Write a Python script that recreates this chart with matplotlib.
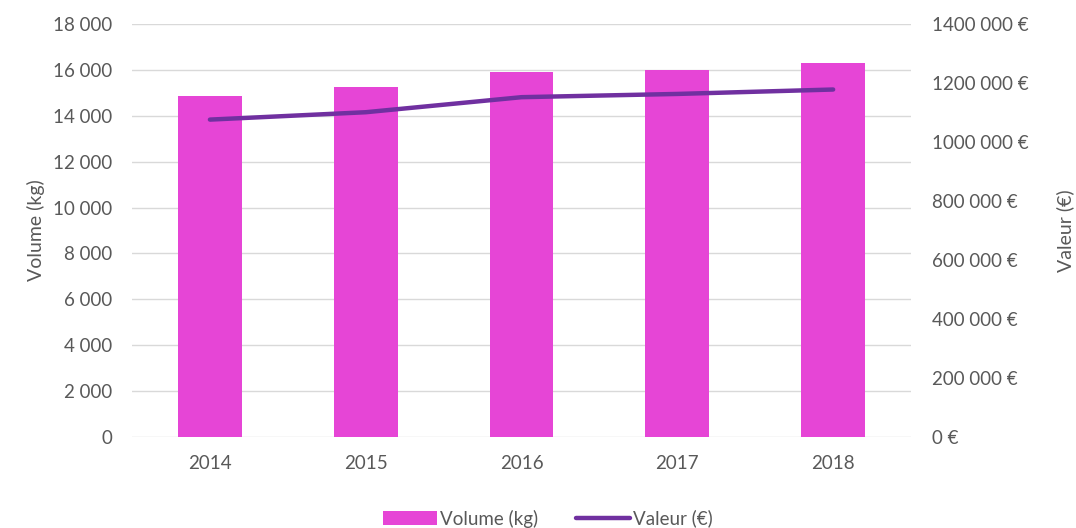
import matplotlib.pyplot as plt
import numpy as np

years = ["2014", "2015", "2016", "2017", "2018"]
volume_kg = [14870, 15260, 15910, 16010, 16290]
valeur_eur = [1076000, 1101000, 1152000, 1163000, 1178000]

left_ticks = [0, 2000, 4000, 6000, 8000, 10000, 12000, 14000, 16000, 18000]
left_labels = ["0", "2 000", "4 000", "6 000", "8 000", "10 000", "12 000",
               "14 000", "16 000", "18 000"]
right_ticks = [0, 200000, 400000, 600000, 800000, 1000000, 1200000, 1400000]
right_labels = ["0 €", "200 000 €", "400 000 €", "600 000 €", "800 000 €",
                "1000 000 €", "1200 000 €", "1400 000 €"]

BAR_COLOR = "#E645D6"
LINE_COLOR = "#7030A0"
TEXT_COLOR = "#595959"
GRID_COLOR = "#D9D9D9"

plt.rcParams["font.family"] = ["Lato", "DejaVu Sans"]
plt.rcParams["font.size"] = 13

fig = plt.figure(figsize=(10.76, 5.28), dpi=100)
ax = fig.add_axes([0.1227, 0.1723, 0.724, 0.7822])
ax2 = ax.twinx()

x = np.arange(len(years))
ax.bar(x, volume_kg, width=0.41, color=BAR_COLOR, zorder=2, label="Volume (kg)")
ax2.plot(x, valeur_eur, color=LINE_COLOR, lw=3.2, solid_capstyle="round",
         label="Valeur (€)", zorder=3)

ax.set_xlim(-0.5, len(years) - 0.5)
ax.set_ylim(0, 18000)
ax2.set_ylim(0, 1400000)

ax.set_xticks(x)
ax.set_xticklabels(years)
ax.set_yticks(left_ticks)
ax.set_yticklabels(left_labels)
ax2.set_yticks(right_ticks)
ax2.set_yticklabels(right_labels)

ax.grid(axis="y", color=GRID_COLOR, lw=1, zorder=0)
ax.set_axisbelow(True)

for a in (ax, ax2):
    for s in a.spines.values():
        s.set_visible(False)
    a.tick_params(length=0, colors=TEXT_COLOR, labelsize=13.5)
ax.tick_params(axis="y", pad=14)
ax.tick_params(axis="x", pad=13)
ax2.tick_params(axis="y", pad=15)

ax.set_ylabel("Volume (kg)", color=TEXT_COLOR, fontsize=14, labelpad=6)
ax2.set_ylabel("Valeur (€)", color=TEXT_COLOR, fontsize=14, labelpad=20)

h1, l1 = ax.get_legend_handles_labels()
h2, l2 = ax2.get_legend_handles_labels()
leg = fig.legend(h1 + h2, l1 + l2, loc="center", bbox_to_anchor=(0.509, 0.018),
                 ncol=2, frameon=False, fontsize=13.5, handlelength=2.9,
                 handletextpad=0.15, columnspacing=2.0)
for t in leg.get_texts():
    t.set_color(TEXT_COLOR)

fig.savefig("out.png", dpi=100)
